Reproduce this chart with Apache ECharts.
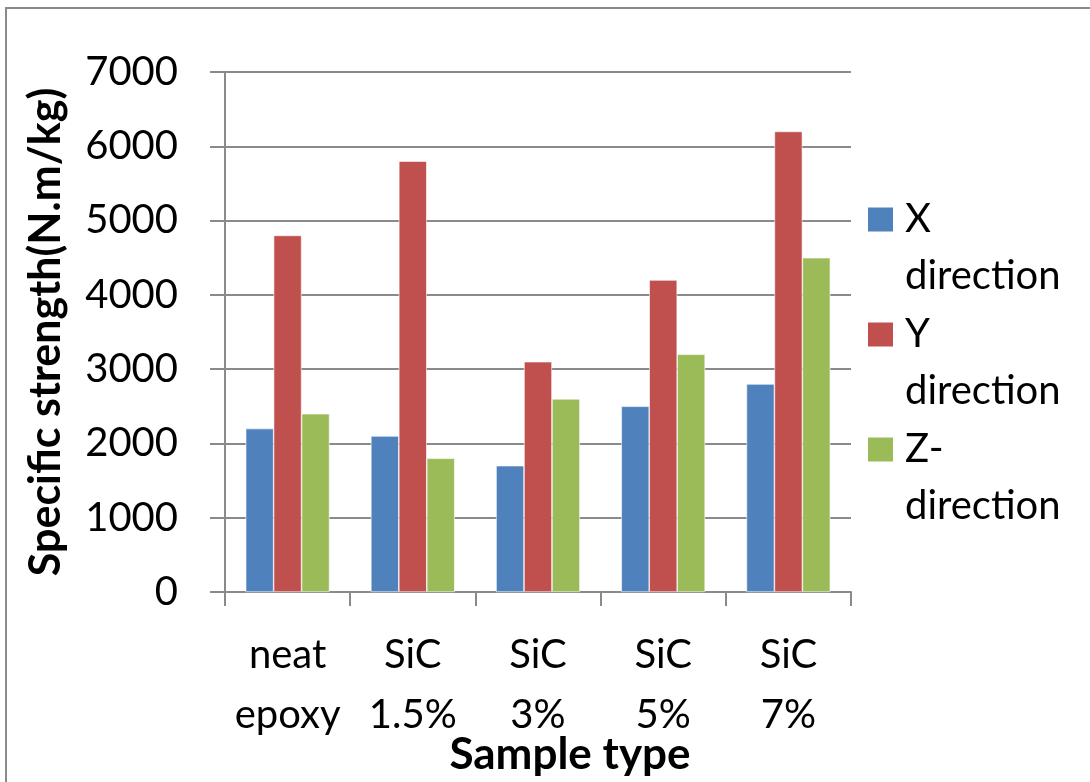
<!DOCTYPE html>
<html>
<head>
<meta charset="utf-8">
<script src="https://cdn.jsdelivr.net/npm/echarts@6/dist/echarts.min.js"></script>
<style>
  html, body { margin: 0; padding: 0; background: #fff; }
  #chart { width: 1090px; height: 782px; }
</style>
</head>
<body>
<div id="chart"></div>
<script>
// sample types along the x axis
var categories = ['neat\nepoxy', 'SiC\n1.5%', 'SiC\n3%', 'SiC\n5%', 'SiC\n7%'];
// specific strength per direction (N.m/kg)
var xDirection = [2200, 2100, 1700, 2500, 2800];
var yDirection = [4800, 5800, 3100, 4200, 6200];
var zDirection = [2400, 1800, 2600, 3200, 4500];
var seriesNames = ['X\ndirection', 'Y\ndirection', 'Z-\ndirection'];
var yTicks = { min: 0, max: 7000, interval: 1000 };

var chart = echarts.init(document.getElementById('chart'));
var font = 'Lato, "Open Sans", sans-serif';
var gray = '#8a8a8a';

function bar(name, data) {
    return {
        name: name,
        type: 'bar',
        data: data,
        barGap: '0%',
        barCategoryGap: '33%',
        itemStyle: { borderColor: '#fff', borderWidth: 0.6 }
    };
}

chart.setOption({
    animation: false,
    backgroundColor: '#fff',
    color: ['#4f81bd', '#c0504d', '#9bbb59'],
    graphic: [{
        type: 'rect',
        shape: { x: 6, y: 8, width: 1200, height: 900 },
        style: { fill: 'none', stroke: gray, lineWidth: 2 },
        silent: true
    }],
    grid: { left: 225, right: 239, top: 72, bottom: 190, outerBoundsMode: 'none', containLabel: false },
    legend: {
        orient: 'vertical',
        left: 866,
        top: 134,
        padding: 0,
        itemWidth: 27,
        itemHeight: 26,
        itemGap: -56,
        icon: 'rect',
        data: seriesNames,
        // leading blank line keeps the icon level with the first word
        formatter: function (name) { return '\n' + name; },
        textStyle: {
            fontFamily: font,
            fontSize: 40,
            color: '#000',
            lineHeight: 57,
            padding: [0, 0, 0, 6]
        }
    },
    xAxis: {
        type: 'category',
        data: categories,
        name: 'Sample type',
        nameLocation: 'middle',
        nameGap: 143,
        nameMoveOverlap: false,
        nameTextStyle: {
            fontFamily: font, fontSize: 44, fontWeight: 'bold', color: '#000',
            lineHeight: 40, padding: [0, 0, 0, 64]
        },
        axisLine: { lineStyle: { color: gray, width: 2 } },
        axisTick: { show: true, length: 14, interval: 0, lineStyle: { color: gray, width: 2 } },
        axisLabel: {
            interval: 0,
            margin: 33,
            fontFamily: font,
            fontSize: 40,
            lineHeight: 60,
            color: '#000'
        }
    },
    yAxis: {
        type: 'value',
        min: yTicks.min,
        max: yTicks.max,
        interval: yTicks.interval,
        name: 'Specific strength(N.m/kg)',
        nameLocation: 'middle',
        nameGap: 157,
        nameMoveOverlap: false,
        nameTextStyle: { fontFamily: font, fontSize: 43, fontWeight: 'bold', color: '#000', lineHeight: 44 },
        axisLine: { show: true, lineStyle: { color: gray, width: 2 } },
        axisTick: { show: true, length: 15, lineStyle: { color: gray, width: 2 } },
        axisLabel: {
            margin: 47, fontFamily: font, fontSize: 40, color: '#000',
            formatter: function (v) { return String(v); }
        },
        splitLine: { lineStyle: { color: gray, width: 2 } }
    },
    series: [
        bar(seriesNames[0], xDirection),
        bar(seriesNames[1], yDirection),
        bar(seriesNames[2], zDirection)
    ]
});
</script>
</body>
</html>
